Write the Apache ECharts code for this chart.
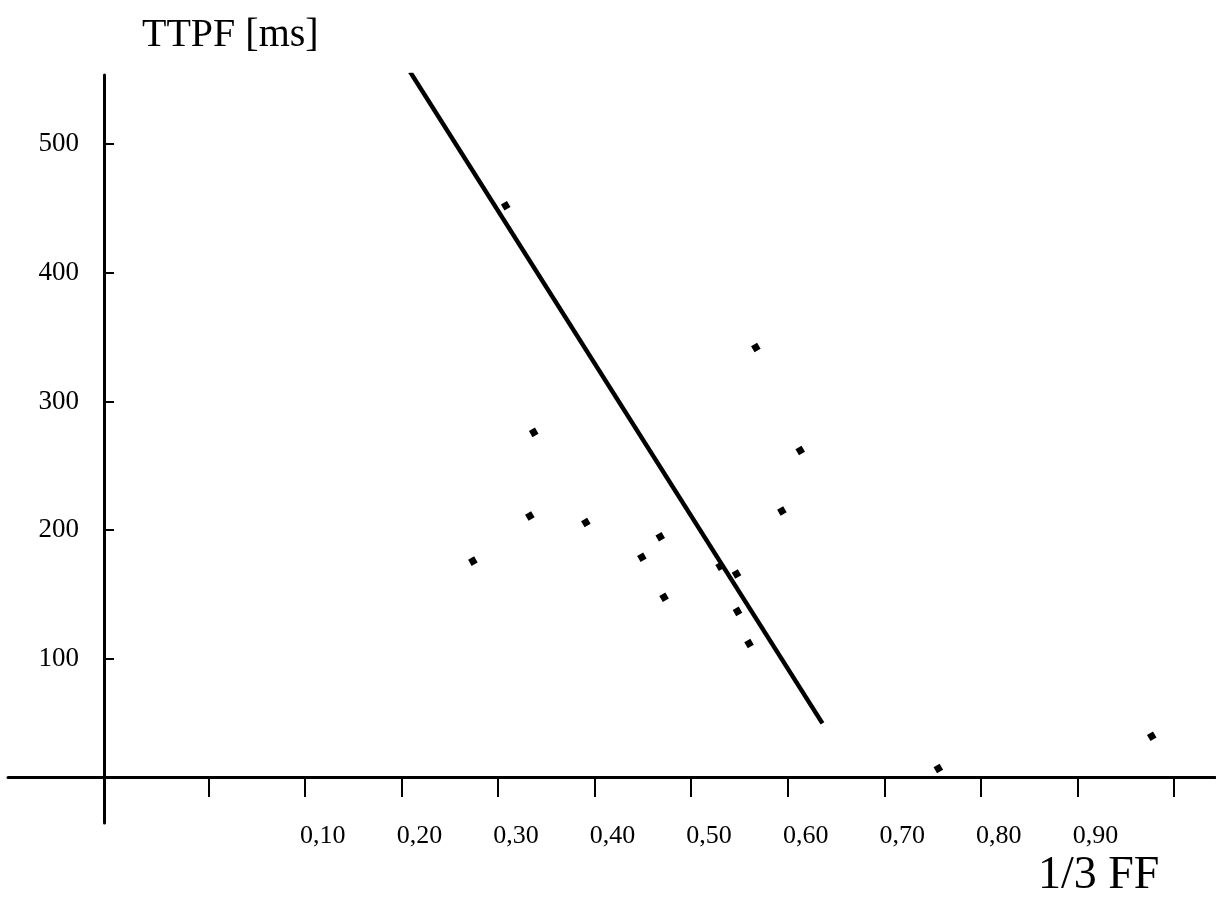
<!DOCTYPE html>
<html>
<head>
    <meta charset="utf-8">
    <title>TTPF vs 1/3 FF</title>
</head>
<body style="margin:0px">
    <div id="main" style="width: 1216px; height: 904px;"></div>
    <script type="text/javascript" src="https://cdn.jsdelivr.net/npm/echarts@6/dist/echarts.min.js"></script>
    <script type="text/javascript">
        // measured points (1/3 FF, TTPF ms)
        var ffValues = [0.308, 0.337, 0.333, 0.391, 0.274, 0.449, 0.468, 0.472, 0.530, 0.547, 0.548, 0.560, 0.567, 0.613, 0.594, 0.756, 0.977]
        var ttpfValues = [452, 276, 211, 206, 176, 179, 195, 148, 172, 166, 137, 112, 342, 262, 215, 15, 40]
        // regression line end points
        var lineFF = [0.209, 0.636]
        var lineTTPF = [556, 50]
        // axis ticks and labels
        var xTicks = [0, 0.1, 0.2, 0.3, 0.4, 0.5, 0.6, 0.7, 0.8, 0.9, 1.0]
        var xLabelValues = [0.1, 0.2, 0.3, 0.4, 0.5, 0.6, 0.7, 0.8, 0.9]
        var yTicks = [100, 200, 300, 400, 500]

        var font = 'Liberation Serif'
        var ink = '#000'

        var points = ffValues.map(function (x, i) { return [x, ttpfValues[i]] })
        var linePoints = lineFF.map(function (x, i) { return [x, lineTTPF[i]] })

        var myChart = echarts.init(document.getElementById('main'))
        myChart.setOption({
            animation: false,
            backgroundColor: '#fff',
            title: [
                { text: 'TTPF [ms]', left: 142, top: 15, padding: 0,
                  textStyle: { fontFamily: font, fontSize: 40, fontWeight: 'normal', color: ink } },
                { text: '1/3 FF', left: 1038, top: 853, padding: 0,
                  textStyle: { fontFamily: font, fontSize: 46, fontWeight: 'normal', color: ink } }
            ],
            grid: { left: 8, right: 1, top: 75, bottom: 81, containLabel: false, outerBoundsMode: 'none' },
            xAxis: {
                type: 'value',
                min: -0.2074,
                max: 1.0425,
                position: 'bottom',
                offset: -46,
                axisLine: { onZero: false, lineStyle: { color: ink, width: 3 } },
                axisTick: { customValues: xTicks, length: 20, lineStyle: { color: ink, width: 2 } },
                axisLabel: {
                    customValues: xLabelValues,
                    formatter: function (v) { return v.toFixed(2).replace('.', ',') },
                    margin: 46, padding: [0, 0, 0, 36],
                    fontFamily: font, fontSize: 26, color: ink
                },
                splitLine: { show: false }
            },
            yAxis: {
                type: 'value',
                min: -27.4,
                max: 553.6,
                position: 'left',
                offset: -96,
                axisLine: { onZero: false, lineStyle: { color: ink, width: 3 } },
                axisTick: { customValues: yTicks, inside: true, length: 10, lineStyle: { color: ink, width: 2 } },
                axisLabel: { customValues: yTicks, margin: 25, fontFamily: font, fontSize: 27, color: ink },
                splitLine: { show: false }
            },
            series: [
                {
                    type: 'line',
                    data: linePoints,
                    showSymbol: false,
                    lineStyle: { color: ink, width: 4.5 }
                },
                {
                    type: 'scatter',
                    data: points,
                    symbol: 'rect',
                    symbolSize: 7,
                    symbolRotate: 30,
                    itemStyle: { color: ink, opacity: 1 }
                }
            ]
        })
    </script>
</body>
</html>
